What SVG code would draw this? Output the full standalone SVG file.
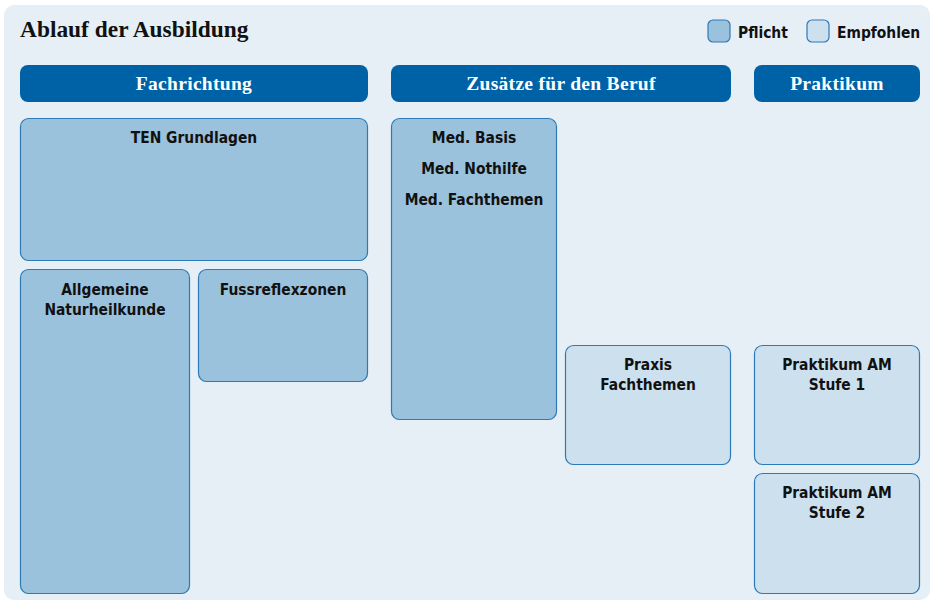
<svg xmlns="http://www.w3.org/2000/svg" width="934" height="601" viewBox="0 0 934 601">
<style>
.bg{fill:#E6EEF6}
.hdr{fill:#0062A6}
.hdrt{font-family:"Liberation Serif",serif;font-weight:bold;font-size:19.5px;letter-spacing:0.3px;fill:#fff;text-anchor:middle}
.title{font-family:"Liberation Serif",serif;font-weight:bold;font-size:23.4px;fill:#111}
.req{fill:#9BC2DC;stroke:#2C7AB8;stroke-width:1.2}
.rec{fill:#CCE0EE;stroke:#2C7AB8;stroke-width:1.2}
.lbl{font-family:"DejaVu Sans Condensed","DejaVu Sans",sans-serif;font-stretch:condensed;font-weight:bold;font-size:15.4px;fill:#111;text-anchor:middle}
.leg{font-family:"DejaVu Sans Condensed","DejaVu Sans",sans-serif;font-stretch:condensed;font-weight:bold;font-size:15.4px;fill:#111}
</style>
<rect width="934" height="601" fill="#fff"/>
<rect class="bg" x="4" y="5" width="926" height="595" rx="10"/>
<text class="title" x="20" y="37">Ablauf der Ausbildung</text>
<g id="legend">
<rect class="req" x="708" y="20" width="22" height="22" rx="5"/>
<text class="leg" x="738" y="38">Pflicht</text>
<rect class="rec" x="807" y="20" width="22" height="22" rx="5"/>
<text class="leg" x="837" y="38">Empfohlen</text>
</g>
<g id="header-fachrichtung"><rect class="hdr" x="20" y="65" width="348" height="37" rx="8"/><text class="hdrt" x="194" y="90">Fachrichtung</text></g>
<g id="header-zusaetze"><rect class="hdr" x="391" y="65" width="340" height="37" rx="8"/><text class="hdrt" x="561" y="90">Zusätze für den Beruf</text></g>
<g id="header-praktikum"><rect class="hdr" x="754" y="65" width="166" height="37" rx="8"/><text class="hdrt" x="837" y="90">Praktikum</text></g>
<g id="ten"><rect class="req" x="20.5" y="118.5" width="347" height="142" rx="8"/><text class="lbl" x="194" y="143">TEN Grundlagen</text></g>
<g id="naturheilkunde"><rect class="req" x="20.5" y="269.5" width="169" height="324" rx="8"/><text class="lbl" x="105" y="295">Allgemeine</text><text class="lbl" x="105" y="315">Naturheilkunde</text></g>
<g id="fussreflex"><rect class="req" x="198.5" y="269.5" width="169" height="112" rx="8"/><text class="lbl" x="283" y="295">Fussreflexzonen</text></g>
<g id="med"><rect class="req" x="391.5" y="118.5" width="165" height="301" rx="8"/><text class="lbl" x="474" y="143">Med. Basis</text><text class="lbl" x="474" y="174">Med. Nothilfe</text><text class="lbl" x="474" y="205">Med. Fachthemen</text></g>
<g id="praxis"><rect class="rec" x="565.5" y="345.5" width="165" height="119" rx="8"/><text class="lbl" x="648" y="370">Praxis</text><text class="lbl" x="648" y="390">Fachthemen</text></g>
<g id="praktikum1"><rect class="rec" x="754.5" y="345.5" width="165" height="119" rx="8"/><text class="lbl" x="837" y="370">Praktikum AM</text><text class="lbl" x="837" y="390">Stufe 1</text></g>
<g id="praktikum2"><rect class="rec" x="754.5" y="473.5" width="165" height="120" rx="8"/><text class="lbl" x="837" y="498">Praktikum AM</text><text class="lbl" x="837" y="518">Stufe 2</text></g>
<g id="connectors"/>
</svg>
